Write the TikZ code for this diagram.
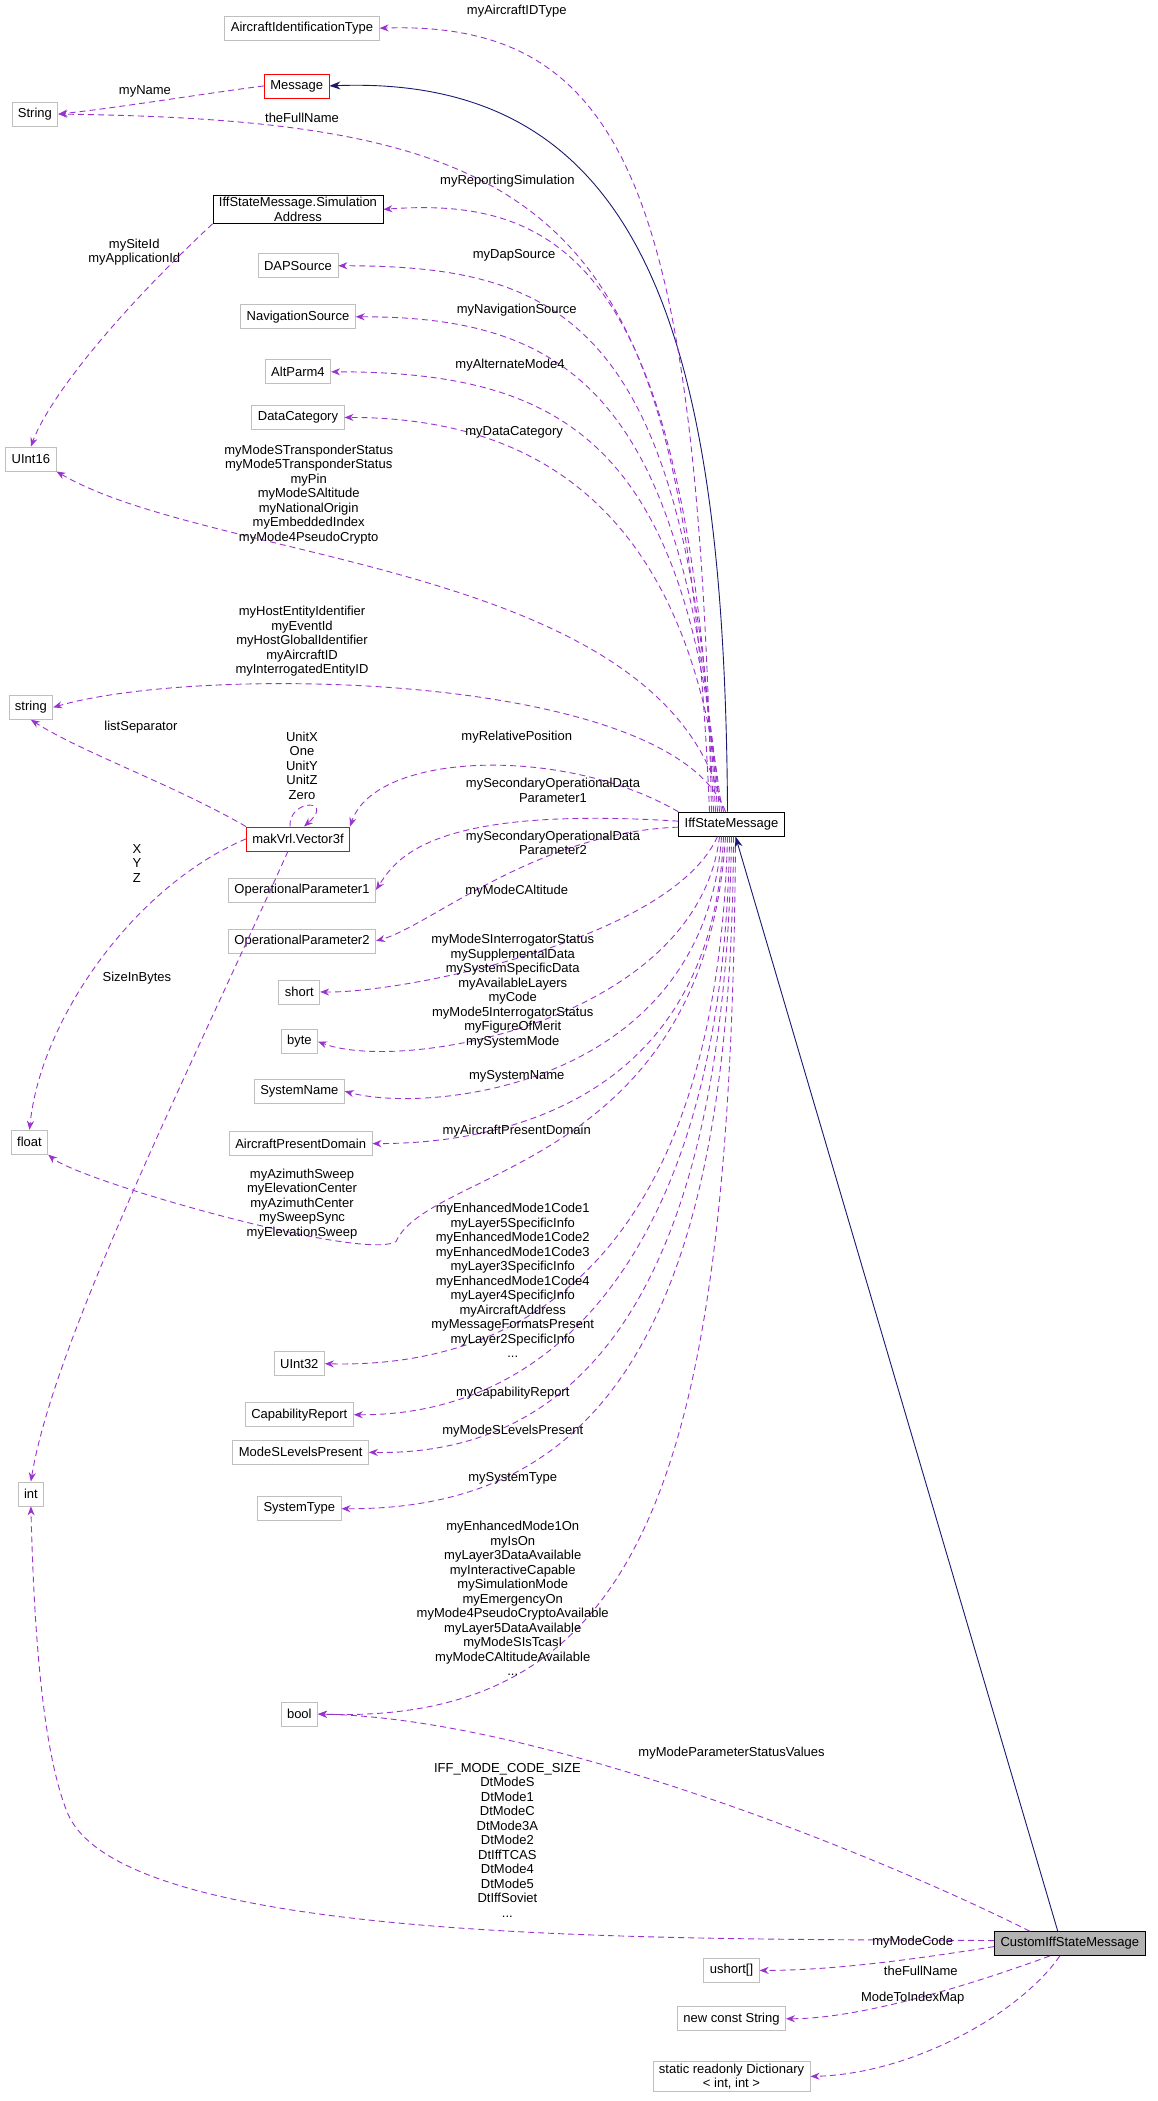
\documentclass[tikz,border=0pt]{standalone}
\usepackage{fontspec}
\setmainfont{Liberation Sans}
\usetikzlibrary{arrows.meta}
\definecolor{edgep}{HTML}{9A32CD}
\definecolor{navy}{HTML}{191970}
\definecolor{gbox}{HTML}{BFBFBF}
\begin{document}
\begin{tikzpicture}[x=1.3422pt,y=-1.3422pt,
  every node/.style={font=\fontsize{13}{14.5}\selectfont},
  box/.style={draw=gbox,fill=white,inner xsep=6pt,inner ysep=3pt,minimum height=24pt,line width=0.8pt},
  rbox/.style={box,draw=red},
  bbox/.style={box,draw=black},
  lab/.style={align=center,inner sep=0pt},
  mem/.style={edgep,dash pattern=on 6pt off 4pt,line width=0.9pt,-{Stealth[length=9pt,width=7pt]}},
  inh/.style={navy,line width=0.9pt,-{Stealth[length=11pt,width=8pt]}}]
\useasboundingbox (0,0) rectangle (862,1565.3);
% nodes
\node[box] (aid) at (225,21) {AircraftIdentificationType};
\node[rbox] (msg) at (221,64) {Message};
\node[box] (String) at (26,85) {String};
\node[bbox,align=center,inner ysep=2pt] (sim) at (222,156) {IffStateMessage.Simulation\\Address};
\node[box] (dap) at (222,198) {DAPSource};
\node[box] (nav) at (222,236) {NavigationSource};
\node[box] (alt) at (222,277) {AltParm4};
\node[box] (dc) at (222,311) {DataCategory};
\node[box] (u16) at (23,342) {UInt16};
\node[box] (str) at (23,527) {string};
\node[rbox] (vec) at (222,625) {makVrl.Vector3f};
\node[bbox] (ism) at (545,614) {IffStateMessage};
\node[box] (op1) at (225,663) {OperationalParameter1};
\node[box] (op2) at (225,701) {OperationalParameter2};
\node[box] (short) at (223,739) {short};
\node[box] (byte) at (223,776) {byte};
\node[box] (sn) at (223,813) {SystemName};
\node[box] (apd) at (224,852) {AircraftPresentDomain};
\node[box] (float) at (22,851) {float};
\node[box] (u32) at (223,1016) {UInt32};
\node[box] (cap) at (223,1054) {CapabilityReport};
\node[box] (msl) at (224,1082) {ModeSLevelsPresent};
\node[box] (st) at (223,1124) {SystemType};
\node[box] (int) at (23,1113) {int};
\node[box] (bool) at (223,1277) {bool};
\node[bbox,fill=gray!60] (cism) at (797,1448) {CustomIffStateMessage};
\node[box] (us) at (545,1468) {ushort[]};
\node[box] (ncs) at (545,1504) {new const String};
\node[box,align=center,inner ysep=2pt] (dict) at (545,1547) {static readonly Dictionary\\< int, int >};
% inheritance
\draw[inh] ([xshift=-4pt]ism.north) .. controls (540,250) and (480,55) .. (msg.east);
\draw[inh] ([xshift=-12pt]cism.north) -- ([xshift=4pt]ism.south);
% members
\draw[mem] ([xshift=-20pt]ism.north) .. controls (520,150) and (470,15) .. (aid.east);
\draw[mem] ([xshift=-22pt]ism.north) .. controls (510,160) and (420,90) .. (String.east);
\draw[mem] (msg.west) .. controls (150,70) and (90,80) .. (String.east);
\draw[mem] ([xshift=-18pt]ism.north) .. controls (515,200) and (420,146) .. (sim.east);
\draw[mem] ([xshift=-16pt]ism.north) .. controls (515,240) and (420,198) .. (dap.east);
\draw[mem] ([xshift=-14pt]ism.north) .. controls (515,290) and (420,236) .. (nav.east);
\draw[mem] ([xshift=-12pt]ism.north) .. controls (515,330) and (420,277) .. (alt.east);
\draw[mem] ([xshift=-10pt]ism.north) .. controls (515,380) and (400,311) .. (dc.east);
\draw[mem] ([xshift=-8pt]ism.north) .. controls (500,420) and (160,420) .. (u16.south east);
\draw[mem] (sim.south west) .. controls (80,240) and (35,300) .. (u16.north);
\draw[mem] ([xshift=-6pt]ism.north) .. controls (500,500) and (150,495) .. (str.east);
\draw[mem] (vec.north west) .. controls (130,585) and (60,560) .. (str.south);
\draw[mem] ([xshift=-8pt]vec.north) .. controls (215,595) and (250,595) .. ([xshift=6pt]vec.north);
\draw[mem] (ism.north west) .. controls (420,555) and (280,560) .. (vec.north east);
\draw[mem] ([yshift=3pt]ism.west) .. controls (320,600) and (295,640) .. (op1.east);
\draw[mem] ([yshift=-3pt]ism.west) .. controls (400,620) and (320,690) .. (op2.east);
\draw[mem] ([xshift=-14pt]ism.south) .. controls (500,700) and (300,740) .. (short.east);
\draw[mem] ([xshift=-12pt]ism.south) .. controls (520,760) and (300,800) .. (byte.east);
\draw[mem] ([xshift=-10pt]ism.south) .. controls (525,810) and (320,830) .. (sn.east);
\draw[mem] ([xshift=-8pt]ism.south) .. controls (530,840) and (340,852) .. (apd.east);
\draw[mem] ([xshift=-6pt]ism.south) .. controls (525,870) and (320,870) .. (295,925) .. controls (270,940) and (60,880) .. (float.south east);
\draw[mem] (vec.west) .. controls (100,660) and (30,760) .. (float.north);
\draw[mem] ([xshift=-10pt]vec.south) .. controls (140,800) and (40,1000) .. (int.north);
\draw[mem] ([xshift=-4pt]ism.south) .. controls (535,900) and (420,1020) .. (u32.east);
\draw[mem] ([xshift=-2pt]ism.south) .. controls (540,920) and (420,1055) .. (cap.east);
\draw[mem] (ism.south) .. controls (540,950) and (440,1085) .. (msl.east);
\draw[mem] ([xshift=2pt]ism.south) .. controls (545,1000) and (440,1125) .. (st.east);
\draw[mem] ([xshift=4pt]ism.south) .. controls (545,1100) and (480,1285) .. (bool.east);
\draw[mem] ([xshift=-40pt]cism.north) .. controls (650,1380) and (400,1280) .. (bool.east);
\draw[mem] ([yshift=3pt]cism.west) .. controls (500,1444) and (90,1450) .. (50,1350) .. controls (30,1300) and (25,1200) .. (int.south);
\draw[mem] ([yshift=-3pt]cism.west) .. controls (680,1460) and (620,1468) .. (us.east);
\draw[mem] ([xshift=-20pt]cism.south) .. controls (720,1480) and (640,1504) .. (ncs.east);
\draw[mem] ([xshift=-10pt]cism.south) .. controls (760,1500) and (680,1545) .. (dict.east);
% labels
\node[lab] at (385,8) {myAircraftIDType};
\node[lab] at (108,68) {myName};
\node[lab] at (225,88) {theFullName};
\node[lab] at (378,135) {myReportingSimulation};
\node[lab] at (100,188) {mySiteId\\myApplicationId};
\node[lab] at (383,190) {myDapSource};
\node[lab] at (385,231) {myNavigationSource};
\node[lab] at (380,272) {myAlternateMode4};
\node[lab] at (383,322) {myDataCategory};
\node[lab] at (230,368.5) {myModeSTransponderStatus\\myMode5TransponderStatus\\myPin\\myModeSAltitude\\myNationalOrigin\\myEmbeddedIndex\\myMode4PseudoCrypto};
\node[lab] at (225,478) {myHostEntityIdentifier\\myEventId\\myHostGlobalIdentifier\\myAircraftID\\myInterrogatedEntityID};
\node[lab] at (105,542) {listSeparator};
\node[lab] at (225,570.5) {UnitX\\One\\UnitY\\UnitZ\\Zero};
\node[lab] at (385,549) {myRelativePosition};
\node[lab] at (412,589) {mySecondaryOperationalData\\Parameter1};
\node[lab] at (102,643) {X\\Y\\Z};
\node[lab] at (412,628) {mySecondaryOperationalData\\Parameter2};
\node[lab] at (385,664) {myModeCAltitude};
\node[lab] at (102,729) {SizeInBytes};
\node[lab] at (382,738.5) {myModeSInterrogatorStatus\\mySupplementalData\\mySystemSpecificData\\myAvailableLayers\\myCode\\myMode5InterrogatorStatus\\myFigureOfMerit\\mySystemMode};
\node[lab] at (385,802) {mySystemName};
\node[lab] at (385,843) {myAircraftPresentDomain};
\node[lab] at (225,897) {myAzimuthSweep\\myElevationCenter\\myAzimuthCenter\\mySweepSync\\myElevationSweep};
\node[lab] at (382,954) {myEnhancedMode1Code1\\myLayer5SpecificInfo\\myEnhancedMode1Code2\\myEnhancedMode1Code3\\myLayer3SpecificInfo\\myEnhancedMode1Code4\\myLayer4SpecificInfo\\myAircraftAddress\\myMessageFormatsPresent\\myLayer2SpecificInfo\\...};
\node[lab] at (382,1038) {myCapabilityReport};
\node[lab] at (382,1066) {myModeSLevelsPresent};
\node[lab] at (382,1101) {mySystemType};
\node[lab] at (382,1191) {myEnhancedMode1On\\myIsOn\\myLayer3DataAvailable\\myInteractiveCapable\\mySimulationMode\\myEmergencyOn\\myMode4PseudoCryptoAvailable\\myLayer5DataAvailable\\myModeSIsTcasI\\myModeCAltitudeAvailable\\...};
\node[lab] at (545,1306) {myModeParameterStatusValues};
\node[lab] at (378,1371) {IFF\_MODE\_CODE\_SIZE\\DtModeS\\DtMode1\\DtModeC\\DtMode3A\\DtMode2\\DtIffTCAS\\DtMode4\\DtMode5\\DtIffSoviet\\...};
\node[lab] at (680,1447) {myModeCode};
\node[lab] at (686,1468) {theFullName};
\node[lab] at (680,1489) {ModeToIndexMap};
\end{tikzpicture}
\end{document}
